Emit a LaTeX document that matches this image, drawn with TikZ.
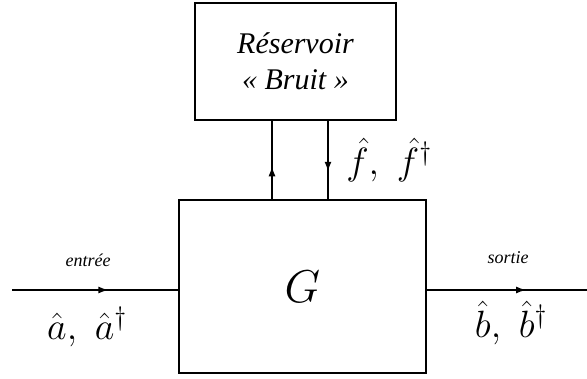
\RequirePackage{fix-cm}
\documentclass[tikz,border=0pt]{standalone}
\usepackage{amsmath}
\usepackage{fontspec}
\newfontfamily\timesfont{Liberation Serif}
\usetikzlibrary{arrows.meta,calc,positioning,decorations.markings}

\begin{document}
\begin{tikzpicture}[x=1pt, y=1pt,
    blockbox/.style={draw, line width=1.6pt, inner sep=0pt, align=center},
    flowline/.style={line width=1.6pt},
    midarrow/.style={postaction={decorate}, decoration={markings,
        mark=at position #1 with {\arrow{Latex[length=10pt,width=7pt]}}}},
    portlabel/.style={font=\timesfont\itshape\fontsize{18}{20}\selectfont},
    mathlabel/.style={font=\fontsize{38}{42}\selectfont}
  ]
  \useasboundingbox (0,0) rectangle (587,379);

  % blocks
  \node[blockbox, minimum width=201pt, minimum height=117pt,
        font=\timesfont\itshape\fontsize{30}{36}\selectfont] (res) at (295.5,317.5)
        {R\'eservoir\\ \guillemotleft~Bruit~\guillemotright};
  \node[blockbox, minimum width=247pt, minimum height=173pt,
        font=\fontsize{46}{50}\selectfont] (G) at (302.5,92.5) {$G$};

  % bath coupling
  \coordinate (upfoot) at ([xshift=-30.5pt]G.north);
  \coordinate (downfoot) at ([xshift=25.5pt]G.north);
  \draw[flowline, midarrow=0.42] (upfoot) -- (upfoot |- res.south);
  \draw[flowline, midarrow=0.65] (downfoot |- res.south) -- (downfoot);
  \node[mathlabel] (flab) at (389,219) {$\hat{f},\ \hat{f}^{\dagger}$};

  % input and output
  \coordinate (inend) at (12,89);
  \coordinate (outend) at (587,89);
  \draw[flowline, midarrow=0.58] (inend) -- (inend -| G.west);
  \draw[flowline, midarrow=0.62] (outend -| G.east) -- (outend);
  \node[portlabel] (inlab) at (88,119) {entr\'ee};
  \node[portlabel] (outlab) at (508,121) {sortie};
  \node[mathlabel] (inops) at (87,52) {$\hat{a},\ \hat{a}^{\dagger}$};
  \node[mathlabel] (outops) at (511,56) {$\hat{b},\ \hat{b}^{\dagger}$};
\end{tikzpicture}
\end{document}
